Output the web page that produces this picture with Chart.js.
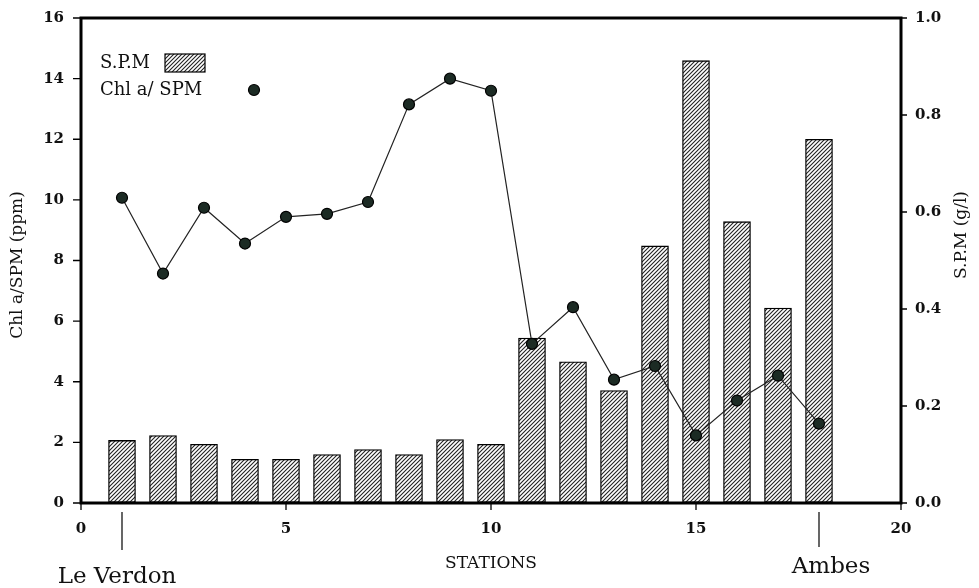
<!DOCTYPE html>
<html>
<head>
<meta charset="utf-8">
<script src="https://cdn.jsdelivr.net/npm/chart.js@4.4.1/dist/chart.umd.min.js"></script>
<style>
  html, body { margin: 0; padding: 0; background: #fff; }
  #wrap { width: 979px; height: 588px; position: relative; }
</style>
</head>
<body>
<div id="wrap"><canvas id="chart"></canvas></div>
<script>
// Data
const stations = [1, 2, 3, 4, 5, 6, 7, 8, 9, 10, 11, 12, 13, 14, 15, 16, 17, 18];
const spmValues = [0.129, 0.139, 0.121, 0.090, 0.090, 0.100, 0.110, 0.100, 0.131, 0.121,
                   0.340, 0.291, 0.232, 0.530, 0.912, 0.580, 0.402, 0.750];
const chlRatio = [10.07, 7.57, 9.74, 8.56, 9.44, 9.54, 9.93, 13.15, 14.0, 13.6,
                  5.25, 6.46, 4.07, 4.52, 2.23, 3.38, 4.2, 2.62];
const xTicks = [0, 5, 10, 15, 20];
const leftTicks = [0, 2, 4, 6, 8, 10, 12, 14, 16];
const rightTicks = [0, 0.2, 0.4, 0.6, 0.8, 1.0];
const endLabels = [{ station: 1, text: 'Le Verdon' }, { station: 18, text: 'Ambes' }];

const SERIF = '"DejaVu Serif", "Liberation Serif", serif';
const TICK_FONT = { family: SERIF, size: 15, weight: 'bold' };

// Hatch pattern for the bars
function makeHatch() {
    const c = document.createElement('canvas');
    c.width = 4; c.height = 4;
    const g = c.getContext('2d');
    g.fillStyle = '#fff';
    g.fillRect(0, 0, 4, 4);
    g.strokeStyle = '#222';
    g.lineWidth = 1.1;
    g.beginPath();
    g.moveTo(-1, 5); g.lineTo(5, -1);
    g.moveTo(-1, 1); g.lineTo(1, -1);
    g.moveTo(3, 5); g.lineTo(5, 3);
    g.stroke();
    return g.createPattern(c, 'repeat');
}
const hatch = makeHatch();

const decorPlugin = {
    id: 'decor',
    afterDraw(chart) {
        const ctx = chart.ctx;
        const a = chart.chartArea;
        const xs = chart.scales.x;
        const yl = chart.scales.yChl;
        const yr = chart.scales.ySpm;
        ctx.save();

        // tick marks
        ctx.strokeStyle = '#000';
        ctx.lineWidth = 1.3;
        ctx.beginPath();
        xTicks.forEach(v => {
            const px = xs.getPixelForValue(v);
            ctx.moveTo(px, a.bottom); ctx.lineTo(px, a.bottom + 7);
        });
        leftTicks.forEach(v => {
            const py = yl.getPixelForValue(v);
            ctx.moveTo(a.left - 8, py); ctx.lineTo(a.left, py);
        });
        rightTicks.forEach(v => {
            const py = yr.getPixelForValue(v);
            ctx.moveTo(a.right, py); ctx.lineTo(a.right + 6, py);
        });
        ctx.stroke();

        // frame
        ctx.lineWidth = 3;
        ctx.strokeRect(a.left, a.top, a.right - a.left, a.bottom - a.top);

        // legend
        ctx.fillStyle = '#111';
        ctx.font = '18px ' + SERIF;
        ctx.textBaseline = 'middle';
        ctx.textAlign = 'left';
        ctx.fillText('S.P.M', 100, 63);
        ctx.fillText('Chl a/ SPM', 100, 90);
        ctx.fillStyle = hatch;
        ctx.fillRect(165, 54, 40, 18);
        ctx.strokeStyle = '#000';
        ctx.lineWidth = 1.2;
        ctx.strokeRect(165, 54, 40, 18);
        ctx.beginPath();
        ctx.arc(254, 90, 5.5, 0, Math.PI * 2);
        ctx.fillStyle = '#1c2b24';
        ctx.fill();
        ctx.stroke();

        // station end markers
        ctx.lineWidth = 1.2;
        ctx.fillStyle = '#111';
        ctx.textAlign = 'center';
        ctx.textBaseline = 'alphabetic';
        ctx.font = '23px ' + SERIF;
        endLabels.forEach((e, i) => {
            const px = xs.getPixelForValue(e.station);
            ctx.beginPath();
            ctx.moveTo(px, 512);
            ctx.lineTo(px, i === 0 ? 550 : 547);
            ctx.stroke();
            ctx.fillText(e.text, i === 0 ? px - 5 : px + 12, i === 0 ? 583 : 573);
        });

        // axis titles
        ctx.font = '17px ' + SERIF;
        ctx.fillText('STATIONS', xs.getPixelForValue(10), 568);
        ctx.textBaseline = 'middle';
        ctx.save();
        ctx.translate(18, 265);
        ctx.rotate(-Math.PI / 2);
        ctx.fillText('Chl a/SPM (ppm)', 0, 0);
        ctx.restore();
        ctx.save();
        ctx.translate(962, 235);
        ctx.rotate(-Math.PI / 2);
        ctx.fillText('S.P.M (g/l)', 0, 0);
        ctx.restore();

        ctx.restore();
    }
};

new Chart(document.getElementById('chart'), {
    type: 'bar',
    data: {
        datasets: [
            {
                type: 'line',
                label: 'Chl a/ SPM',
                data: stations.map((s, i) => ({ x: s, y: chlRatio[i] })),
                yAxisID: 'yChl',
                borderColor: '#222',
                borderWidth: 1.2,
                pointRadius: 5.5,
                pointBackgroundColor: '#1c2b24',
                pointBorderColor: '#000',
                pointBorderWidth: 1.2,
                tension: 0,
                order: 0
            },
            {
                type: 'bar',
                label: 'S.P.M',
                data: stations.map((s, i) => ({ x: s, y: spmValues[i] })),
                yAxisID: 'ySpm',
                backgroundColor: hatch,
                borderColor: '#000',
                borderWidth: 1.3,
                borderSkipped: false,
                barThickness: 27,
                order: 1
            }
        ]
    },
    options: {
        responsive: true,
        maintainAspectRatio: false,
        animation: false,
        layout: { padding: { top: 15, left: 0, right: 0, bottom: 0 } },
        plugins: {
            legend: { display: false },
            tooltip: { enabled: false }
        },
        scales: {
            x: {
                type: 'linear',
                offset: false,
                min: 0,
                max: 20,
                afterBuildTicks: s => { s.ticks = xTicks.map(v => ({ value: v })); },
                afterFit: s => { s.height = 85; },
                grid: { display: true, offset: false, drawOnChartArea: false, tickLength: 7, color: 'rgba(0,0,0,0)' },
                border: { display: false },
                ticks: { color: '#111', padding: 10, font: TICK_FONT }
            },
            yChl: {
                type: 'linear',
                position: 'left',
                min: 0,
                max: 16,
                afterBuildTicks: s => { s.ticks = leftTicks.map(v => ({ value: v })); },
                afterFit: s => { s.width = 81; },
                grid: { display: true, drawOnChartArea: false, tickLength: 8, color: 'rgba(0,0,0,0)' },
                border: { display: false },
                ticks: { color: '#111', padding: 9, font: TICK_FONT }
            },
            ySpm: {
                type: 'linear',
                position: 'right',
                min: 0,
                max: 1,
                afterBuildTicks: s => { s.ticks = rightTicks.map(v => ({ value: v })); },
                afterFit: s => { s.width = 78; },
                grid: { display: true, drawOnChartArea: false, tickLength: 6, color: 'rgba(0,0,0,0)' },
                border: { display: false },
                ticks: {
                    color: '#111',
                    padding: 8,
                    font: TICK_FONT,
                    callback: v => v.toFixed(1)
                }
            }
        }
    },
    plugins: [decorPlugin]
});
</script>
</body>
</html>
